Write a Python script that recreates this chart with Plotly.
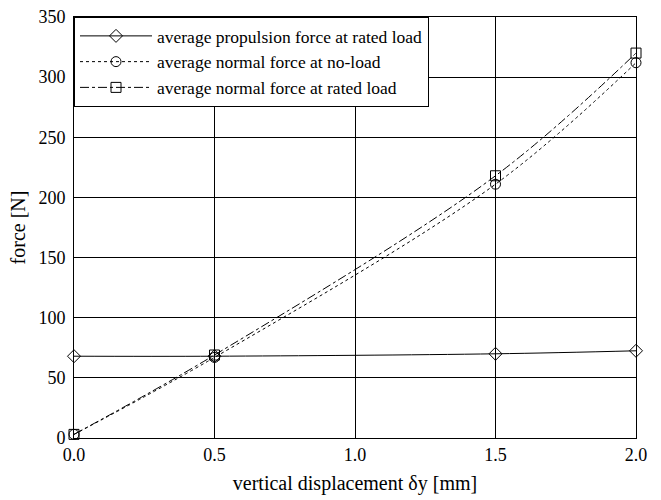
import plotly.graph_objects as go

x_vals = [0.0, 0.5, 1.5, 2.0]
propulsion_rated = [68, 68, 70, 72.5]
normal_noload = [3, 67, 211, 312]
normal_rated = [3, 69, 218, 320]

names = [
    "average propulsion force at rated load",
    "average normal force at no-load",
    "average normal force at rated load",
]
x_ticks = [0.0, 0.5, 1.0, 1.5, 2.0]
y_ticks = [0, 50, 100, 150, 200, 250, 300, 350]

FONT = "Liberation Serif"

fig = go.Figure()
series = [
    (propulsion_rated, "solid", "diamond-open"),
    (normal_noload, "dot", "circle-open"),
    (normal_rated, "dashdot", "square-open"),
]
for (vals, dash, sym), nm in zip(series, names):
    fig.add_trace(go.Scatter(
        x=x_vals, y=vals, name=nm, mode="lines+markers", cliponaxis=False,
        line=dict(color="black", width=1, dash=dash, shape="spline", smoothing=1.0),
        marker=dict(symbol=sym, size=10, color="black", line=dict(width=1, color="black")),
    ))

axis_common = dict(
    showline=True, linecolor="black", linewidth=1, mirror=True,
    showgrid=True, gridcolor="black", gridwidth=1,
    zeroline=False, ticks="", tickfont=dict(family=FONT, size=18, color="black"),
)
fig.update_xaxes(range=[0, 2], tickvals=x_ticks, ticktext=[f"{v:.1f}" for v in x_ticks],
                 ticklabelstandoff=0,
                 title=dict(text="vertical displacement δy [mm]", font=dict(family=FONT, size=20, color="black"), standoff=12),
                 **axis_common)
fig.update_yaxes(range=[0, 350], tickvals=y_ticks, ticklabelstandoff=4,
                 title=dict(text="force [N]", font=dict(family=FONT, size=20, color="black"), standoff=7),
                 **axis_common)

fig.update_layout(
    width=661, height=500,
    margin=dict(l=74, r=25, t=17, b=62, autoexpand=False),
    paper_bgcolor="white", plot_bgcolor="white",
    font=dict(family=FONT, size=18, color="black"),
    legend=dict(x=0, y=1, xanchor="left", yanchor="top",
                bgcolor="white", bordercolor="black", borderwidth=1,
                font=dict(family=FONT, size=17.5, color="black"),
                tracegroupgap=0, itemwidth=72),
    showlegend=True,
)
fig.write_html("out.html", config={"displayModeBar": False},
               post_script="document.body.style.margin='0';")
